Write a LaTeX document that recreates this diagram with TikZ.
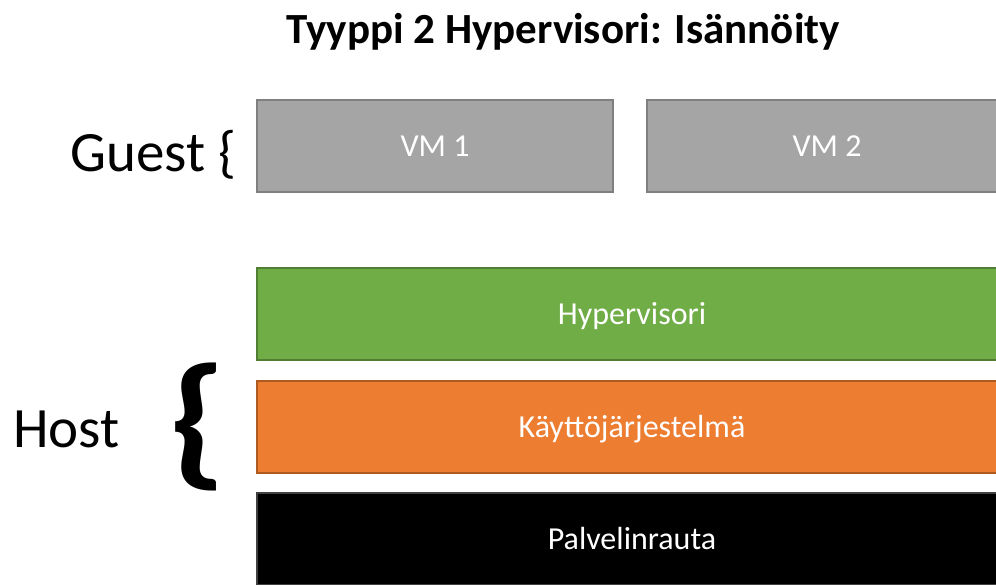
\documentclass[tikz,border=0pt]{standalone}
\usepackage{fontspec}
\setmainfont{Carlito}
\begin{document}
\begin{tikzpicture}[x=1pt,y=-1pt,
  layer/.style={draw, line width=2pt, inner sep=0pt, text=white,
    font=\fontsize{32}{38}\selectfont, text height=20.6pt, text depth=0pt},
  vmbox/.style={layer, fill=vmgray, draw=vmedge},
  sidelabel/.style={anchor=base west, inner sep=0pt}]
\definecolor{vmgray}{HTML}{A5A5A5}
\definecolor{vmedge}{HTML}{7F7F7F}
\definecolor{hvgreen}{HTML}{70AD47}
\definecolor{hvedge}{HTML}{507E32}
\definecolor{osorange}{HTML}{ED7D31}
\definecolor{osedge}{HTML}{AE5A21}
\definecolor{hwedge}{HTML}{404040}
\clip (0,0) rectangle (996,584);
\fill[white] (0,0) rectangle (996,584);

% title
\node[anchor=base, inner sep=0pt, font=\fontsize{43}{50}\selectfont\bfseries]
  (title) at (563,43) {Tyyppi 2 Hypervisori: Isännöity};

% guest layer
\node[vmbox, minimum width=356pt, minimum height=92pt] (vm1) at (435,146) {VM 1};
\node[vmbox, minimum width=360pt, minimum height=92pt] (vm2) at (827,146) {VM 2};

% host layers
\node[layer, fill=hvgreen, draw=hvedge, minimum width=750pt, minimum height=92pt]
  (hyp) at (632,314) {Hypervisori};
\node[layer, fill=osorange, draw=osedge, minimum width=750pt, minimum height=92pt]
  (os) at (632,427) {Käyttöjärjestelmä};
\node[layer, fill=black, draw=hwedge, minimum width=750pt, minimum height=92pt]
  (hw) at (632,539) {Palvelinrauta};

% side labels
\node[sidelabel, font=\fontsize{57}{64}\selectfont] (guest) at (70,171) {Guest \{};
\node[sidelabel, font=\fontsize{57}{64}\selectfont] (host) at (13,447) {Host};
\node[inner sep=0pt, xscale=1.17, font=\fontsize{146}{150}\selectfont\bfseries]
  (hostbrace) at (197.5,427) {\{};
\end{tikzpicture}
\end{document}
